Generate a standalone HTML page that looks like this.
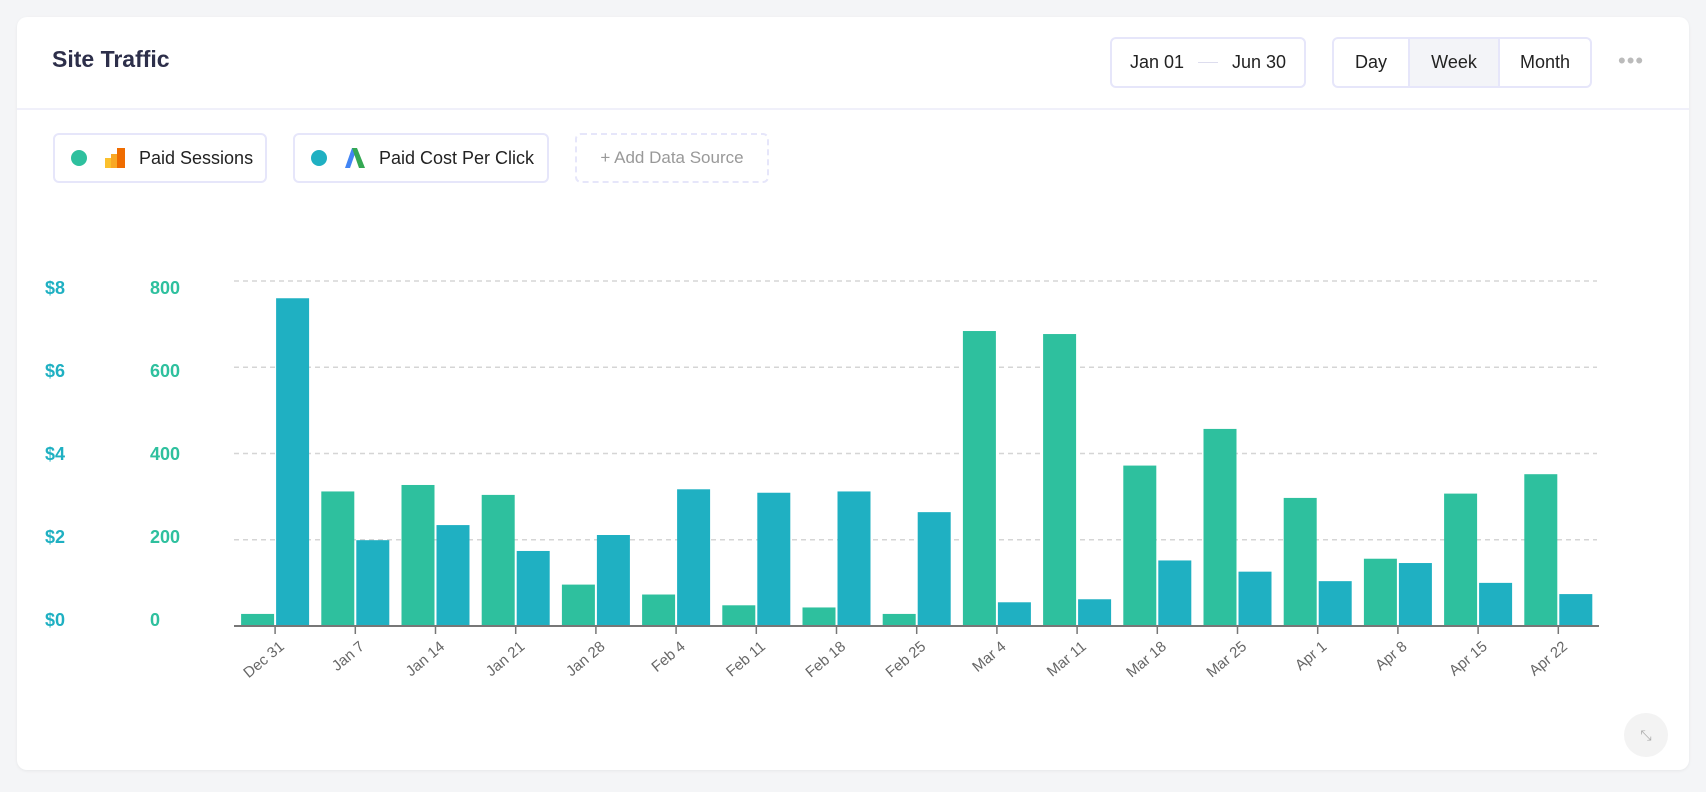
<!DOCTYPE html>
<html><head><meta charset="utf-8"><style>
body{margin:0;width:1706px;height:792px;background:#f4f5f7;font-family:"Liberation Sans",sans-serif;overflow:hidden;position:relative}
.card{position:absolute;left:17px;top:17px;width:1672px;height:753px;background:#fff;border-radius:10px;box-shadow:0 1px 3px rgba(0,0,0,.06)}
.abs{position:absolute}
.btn{position:absolute;border:2px solid #e6e6fa;border-radius:6px;box-sizing:border-box;font-size:18px;color:#222;display:flex;align-items:center}
</style></head><body>
<div class="card"></div>
<div class="abs" style="left:52px;top:46px;font-size:23px;font-weight:bold;color:#2d2f4a">Site Traffic</div>
<div class="btn" style="left:1110px;top:37px;width:196px;height:51px;justify-content:center;gap:14px"><span>Jan 01</span><span style="width:20px;height:1px;background:#dde"></span><span>Jun 30</span></div>
<div class="btn" style="left:1332px;top:37px;width:260px;height:51px;overflow:hidden">
<div style="width:74px;text-align:center">Day</div>
<div style="width:88px;height:100%;display:flex;align-items:center;justify-content:center;background:#f3f4f8;border-left:2px solid #e6e6fa;border-right:2px solid #e6e6fa">Week</div>
<div style="flex:1;text-align:center">Month</div></div>
<div class="abs" style="left:1618px;top:48px;font-size:22px;color:#bbb;letter-spacing:1px">•••</div>
<div class="abs" style="left:17px;top:108px;width:1672px;height:2px;background:#f0f0fa"></div>
<div class="btn" style="left:53px;top:133px;width:214px;height:50px">
<span style="margin-left:16px;width:16px;height:16px;border-radius:50%;background:#2ec09e"></span>
<svg width="24" height="24" style="margin-left:16px"><rect x="2" y="12" width="10" height="10" fill="#fbc02d"/><rect x="8" y="8" width="6" height="14" fill="#f9a825"/><rect x="14" y="2" width="8" height="20" fill="#ef6c00"/></svg>
<span style="margin-left:12px">Paid Sessions</span></div>
<div class="btn" style="left:293px;top:133px;width:256px;height:50px">
<span style="margin-left:16px;width:16px;height:16px;border-radius:50%;background:#1fb0c2"></span>
<svg width="24" height="24" style="margin-left:16px"><polygon points="9,2 14,2 7,22 2,22" fill="#4285f4"/><polygon points="9,2 14,2 22,22 16,22" fill="#34a853"/></svg>
<span style="margin-left:12px">Paid Cost Per Click</span></div>
<div class="btn" style="left:575px;top:133px;width:194px;height:50px;border:2px dashed #e6e6fa;color:#999;justify-content:center;font-size:17px">+ Add Data Source</div>
<div class="abs" style="left:1624px;top:713px;width:44px;height:44px;border-radius:50%;background:#f3f3f3;color:#aaa;font-size:14px;display:flex;align-items:center;justify-content:center">⤡</div>
<svg id="chart" class="abs" style="left:0;top:0" width="1706" height="792"></svg>
<script>
const categories=["Dec 31","Jan 7","Jan 14","Jan 21","Jan 28","Feb 4","Feb 11","Feb 18","Feb 25","Mar 4","Mar 11","Mar 18","Mar 25","Apr 1","Apr 8","Apr 15","Apr 22"];
const sessions=[28,312,327,304,96,73,48,43,28,684,677,372,457,297,156,307,352];
const cpc=[7.6,1.99,2.34,1.74,2.11,3.17,3.09,3.12,2.64,0.55,0.62,1.52,1.26,1.04,1.46,1.0,0.74];
const sessionTicks=[0,200,400,600,800];
const cpcTicks=["$0","$2","$4","$6","$8"];
const NS="http://www.w3.org/2000/svg",svg=document.getElementById('chart');
const x0=235,band=80.2,y0=626,yTop=281;
const yS=v=>y0-(v/800)*(y0-yTop), yC=v=>y0-(v/8)*(y0-yTop);
const yL=v=>619-(v/800)*(619-287);
function mk(t,a,p){const e=document.createElementNS(NS,t);for(const k in a)e.setAttribute(k,a[k]);(p||svg).appendChild(e);return e;}
sessionTicks.forEach((v,i)=>{
 const y=yS(v);
 if(v>0){const g=mk('line',{x1:234,x2:1597,y1:y,y2:y,stroke:'#d5d5d5','stroke-dasharray':'5,4','stroke-width':1.5});
 
 }
 const ly=yL(v);
 const t=mk('text',{x:150,y:ly+7,fill:'#2ec09e','font-size':18,'font-weight':'bold'});t.textContent=v;
 
 
 const c=mk('text',{x:45,y:ly+7,fill:'#1fb0c2','font-size':18,'font-weight':'bold'});c.textContent=cpcTicks[i];
 
 
});
categories.forEach((c,i)=>{
 const cx=x0+band*(i+0.5);
 const gs=mk('rect',{x:cx-34,y:yS(sessions[i]),width:33,height:y0-yS(sessions[i]),fill:'#2ec09e'});
 
 
 const bc=mk('rect',{x:cx+1,y:yC(cpc[i]),width:33,height:y0-yC(cpc[i]),fill:'#1fb0c2'});
 
 
 const tk=mk('line',{x1:cx,x2:cx,y1:626,y2:634,stroke:'#777','stroke-width':1.5});
 
 
 const t=mk('text',{x:cx+10,y:648,fill:'#666','font-size':15,'text-anchor':'end',transform:`rotate(-40 ${cx+10} 648)`});t.textContent=c;
 
 
});
const base=mk('line',{x1:234,x2:1599,y1:626,y2:626,stroke:'#777','stroke-width':2});


</script>
</body></html>
